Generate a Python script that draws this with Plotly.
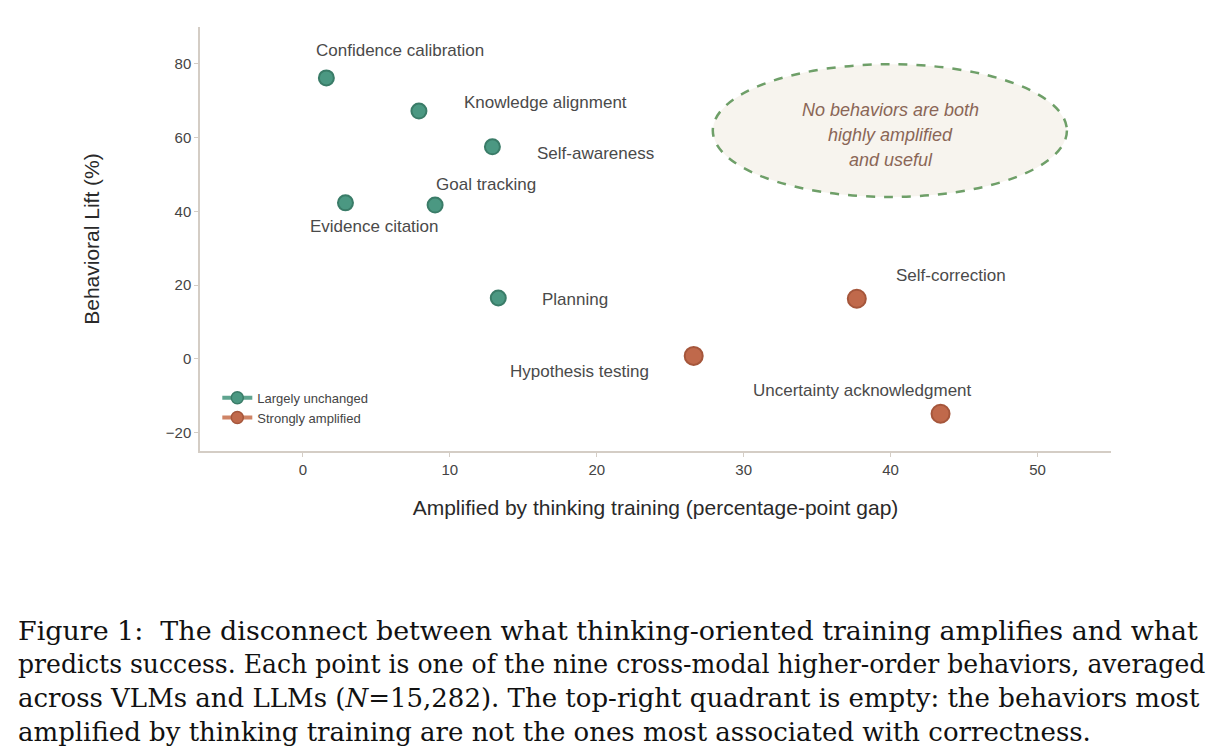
import plotly.graph_objects as go

# behaviours, grouped by how strongly thinking training amplifies them
unchanged_names = ["Confidence calibration", "Knowledge alignment", "Self-awareness",
                   "Evidence citation", "Goal tracking", "Planning"]
unchanged_gap = [1.6, 7.9, 12.9, 2.9, 9.0, 13.3]
unchanged_lift = [76.2, 67.2, 57.5, 42.3, 41.7, 16.5]

amplified_names = ["Hypothesis testing", "Self-correction", "Uncertainty acknowledgment"]
amplified_gap = [26.6, 37.7, 43.4]
amplified_lift = [0.8, 16.3, -14.9]

# label positions (data coords)
unchanged_label_x = [6.6, 16.5, 19.9, 4.9, 12.45, 18.5]
unchanged_label_y = [83.5, 69.4, 55.8, 36.0, 47.2, 16.0]
amplified_label_x = [18.8, 44.1, 38.1]
amplified_label_y = [-3.5, 22.5, -8.7]

x_ticks = [0, 10, 20, 30, 40, 50]
y_ticks = [-20, 0, 20, 40, 60, 80]

ellipse_lines = ["No behaviors are both", "highly amplified", "and useful"]
ellipse_line_y = [67.5, 60.8, 54.0]

caption_lines = [
    "Figure 1:  The disconnect between what thinking-oriented training amplifies and what",
    "predicts success. Each point is one of the nine cross-modal higher-order behaviors, averaged",
    "across VLMs and LLMs (<i>N</i>=15,282). The top-right quadrant is empty: the behaviors most",
    "amplified by thinking training are not the ones most associated with correctness.",
]
# per-line font size so the justified lines fill the same width
caption_sizes = [26.9, 25.1, 26.0, 26.0]

GREEN = "#4b9882"
GREEN_EDGE = "#3a7c68"
ORANGE = "#c0694b"
ORANGE_EDGE = "#a5563b"
SANS = "Helvetica Neue, Liberation Sans, Arial, sans-serif"

# page body adds 8px margin, so the figure is a bit smaller than the window
W, H = 1211, 745
PLOT_H = 424

fig = go.Figure()

fig.add_trace(go.Scatter(
    x=unchanged_gap, y=unchanged_lift, mode="markers", showlegend=False,
    marker=dict(size=15, color=GREEN, line=dict(color=GREEN_EDGE, width=2)),
))
fig.add_trace(go.Scatter(
    x=amplified_gap, y=amplified_lift, mode="markers", showlegend=False,
    marker=dict(size=18, color=ORANGE, line=dict(color=ORANGE_EDGE, width=2)),
))

# legend entries (line + marker style)
fig.add_trace(go.Scatter(
    x=[None], y=[None], mode="lines+markers", name="Largely unchanged",
    line=dict(color="#5fa48f", width=4),
    marker=dict(size=12, color=GREEN, line=dict(color=GREEN_EDGE, width=1.5)),
))
fig.add_trace(go.Scatter(
    x=[None], y=[None], mode="lines+markers", name="Strongly amplified",
    line=dict(color="#cf8466", width=4),
    marker=dict(size=12, color=ORANGE, line=dict(color=ORANGE_EDGE, width=1.5)),
))

# point labels
for names, lx, ly in [(unchanged_names, unchanged_label_x, unchanged_label_y),
                      (amplified_names, amplified_label_x, amplified_label_y)]:
    for n, x, y in zip(names, lx, ly):
        fig.add_annotation(x=x, y=y, text=n, showarrow=False,
                           font=dict(family=SANS, size=17, color="#4a4a4a"))

# empty quadrant ellipse
fig.add_shape(type="circle", xref="x", yref="y", x0=27.9, x1=52.0, y0=43.9, y1=79.9,
              fillcolor="#f7f4ee", line=dict(color="#6e9f68", width=2.5, dash="dash"),
              layer="below")
for t, y in zip(ellipse_lines, ellipse_line_y):
    fig.add_annotation(x=40, y=y, text="<i>" + t + "</i>", showarrow=False,
                       font=dict(family=SANS, size=18, color="#8a6656"))

# caption
for i, (line, fs) in enumerate(zip(caption_lines, caption_sizes)):
    fig.add_annotation(xref="paper", yref="paper", x=-184 / 911,
                       y=(443 - 622 - 34 * i) / PLOT_H,
                       xanchor="left", yanchor="middle", text=line, showarrow=False,
                       font=dict(family="DejaVu Serif, Liberation Serif, serif", size=fs,
                                 color="#111111"))

fig.update_layout(
    width=W, height=H,
    margin=dict(l=192, r=108, t=19, b=H - 19 - PLOT_H),
    paper_bgcolor="white", plot_bgcolor="white",
    font=dict(family=SANS, color="#444444"),
    xaxis=dict(
        range=[-7, 55], tickvals=x_ticks, showgrid=False, zeroline=False,
        showline=True, linecolor="#d4cdc5", linewidth=1.5,
        ticks="outside", ticklen=4, tickcolor="#d4cdc5", tickfont=dict(size=15, color="#444444"),
        title=dict(text="Amplified by thinking training (percentage-point gap)",
                   font=dict(size=21, color="#2a2a2a"), standoff=24),
    ),
    yaxis=dict(
        range=[-25, 90], tickvals=y_ticks, showgrid=False, zeroline=False,
        showline=True, linecolor="#d4cdc5", linewidth=1.5,
        ticks="outside", ticklen=4, tickcolor="#d4cdc5", tickfont=dict(size=15, color="#444444"),
        title=dict(text="Behavioral Lift (%)", font=dict(size=21, color="#2a2a2a"), standoff=60),
    ),
    legend=dict(x=0.019, y=0.161, xanchor="left", yanchor="top", bgcolor="rgba(0,0,0,0)",
                font=dict(size=13, color="#444444"), tracegroupgap=4),
)

fig.write_html("out.html")
